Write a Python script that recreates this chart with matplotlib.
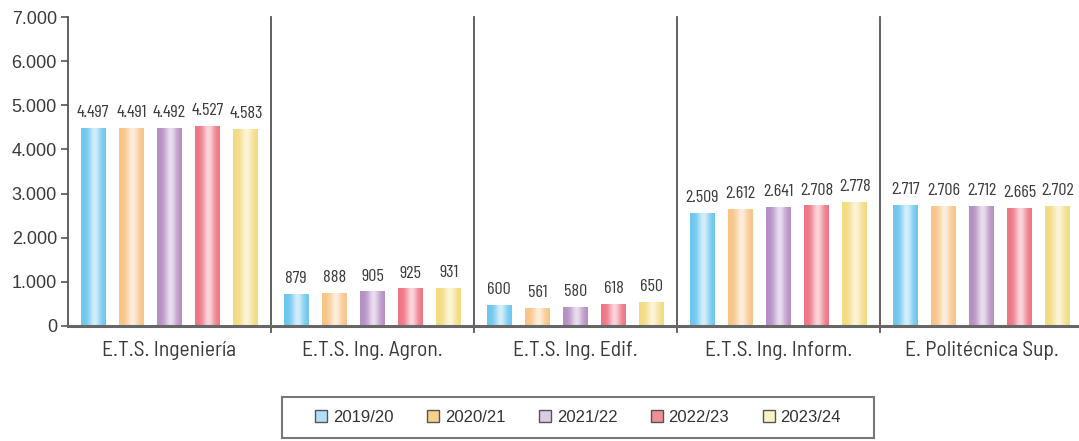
import numpy as np
import matplotlib
matplotlib.use("Agg")
import matplotlib.pyplot as plt
from matplotlib.colors import to_rgb
from matplotlib.patches import Patch, Rectangle

# ---- data ----
categories = ["E.T.S. Ingeniería", "E.T.S. Ing. Agron.", "E.T.S. Ing. Edif.",
              "E.T.S. Ing. Inform.", "E. Politécnica Sup."]
series = ["2019/20", "2020/21", "2021/22", "2022/23", "2023/24"]
# bar heights as drawn in the picture
bar_heights = {
    "2019/20": [4494, 724, 482, 2564, 2745],
    "2020/21": [4494, 747, 414, 2655, 2722],
    "2021/22": [4494, 783, 437, 2700, 2722],
    "2022/23": [4540, 851, 505, 2731, 2677],
    "2023/24": [4472, 867, 543, 2806, 2722],
}
# value labels printed above the bars
label_values = {
    "2019/20": ["4.497", "879", "600", "2.509", "2.717"],
    "2020/21": ["4.491", "888", "561", "2.612", "2.706"],
    "2021/22": ["4.492", "905", "580", "2.641", "2.712"],
    "2022/23": ["4.527", "925", "618", "2.708", "2.665"],
    "2023/24": ["4.583", "931", "650", "2.778", "2.702"],
}
yticks = [0, 1000, 2000, 3000, 4000, 5000, 6000, 7000]
ytick_labels = ["0", "1.000", "2.000", "3.000", "4.000", "5.000", "6.000", "7.000"]

bar_colors = ["#6cc6ee", "#f8c487", "#b58fc4", "#ee7483", "#f3db80"]
legend_colors = ["#b0e0f6", "#f9cf8c", "#dccbe4", "#ee8e99", "#f9f3c4"]

W, H = 1079, 441
fig = plt.figure(figsize=(W / 100, H / 100), dpi=100)
x0, x1 = 68, 68 + 5 * 203.0
y0, y1 = 326, 17
ax = fig.add_axes([x0 / W, (H - y0) / H, (x1 - x0) / W, (y0 - y1) / H])
ax.set_xlim(0, 5)
ax.set_ylim(0, 7000)

narrow = ["Barlow Condensed", "Archivo Narrow", "DejaVu Sans"]
semi = ["Barlow Semi Condensed", "Barlow Condensed", "DejaVu Sans"]
regular = ["Liberation Sans", "DejaVu Sans"]

bw = 0.122
pitch = 0.188
idx = np.arange(len(categories))

u = np.linspace(0, 1, 64)
profile = 0.7 * np.exp(-((u - 0.55) / 0.24) ** 2)

for j, s in enumerate(series):
    xs = idx + 0.5 + (j - 2) * pitch
    bars = ax.bar(xs, bar_heights[s], width=bw, color=bar_colors[j],
                  edgecolor="none", zorder=2)
    base = np.array(to_rgb(bar_colors[j]))
    grad = base[None, :] * (1 - profile[:, None]) + np.ones(3)[None, :] * profile[:, None]
    img = grad[None, :, :]
    for b, lab in zip(bars, label_values[s]):
        bx, by = b.get_x(), b.get_height()
        im = ax.imshow(img, extent=[bx, bx + bw, 0, by], aspect="auto",
                       interpolation="bilinear", zorder=3)
        im.set_clip_path(b)
        ax.annotate(lab, (bx + bw / 2, by), xytext=(0, 5.5), textcoords="offset points",
                    ha="center", va="bottom", fontsize=13, color="#3a3a3a",
                    family=narrow)

ax.set_xlim(0, 5)
ax.set_ylim(0, 7000)

# group separators
for k in range(1, 5):
    ax.plot([k, k], [-140, 7000], color="#555555", lw=1.3, clip_on=False, zorder=4)

ax.set_yticks(yticks)
ax.set_yticklabels(ytick_labels, family=regular, fontsize=13, color="#3a3a3a")
ax.tick_params(axis="y", length=5, width=1.2, color="#555555", pad=3)
ax.set_xticks(idx + 0.5)
ax.set_xticklabels(categories, family=semi, fontsize=15.5, color="#3a3a3a")
ax.tick_params(axis="x", length=0, pad=11)

for sp in ["top", "right"]:
    ax.spines[sp].set_visible(False)
ax.spines["left"].set_color("#555555")
ax.spines["left"].set_linewidth(1.3)
ax.spines["bottom"].set_color("#666666")
ax.spines["bottom"].set_linewidth(2.2)
ax.spines["bottom"].set_zorder(5)

# legend
handles = [Patch(facecolor=legend_colors[j], edgecolor="#555555", linewidth=1.0)
           for j in range(len(series))]
leg = fig.legend(handles, series, loc="center", bbox_to_anchor=(578 / W, (H - 417.5) / H),
                 ncol=5, frameon=False,
                 prop={"family": regular, "size": 12},
                 handlelength=0.72, handleheight=0.72, handletextpad=0.36,
                 columnspacing=2.0, borderpad=0.3)
for t in leg.get_texts():
    t.set_color("#333333")
fig.patches.append(Rectangle((282 / W, (H - 438) / H), (874 - 282) / W, (438 - 397) / H,
                             transform=fig.transFigure, facecolor="none",
                             edgecolor="#777777", linewidth=1.5))

fig.savefig("out.png", dpi=100)
